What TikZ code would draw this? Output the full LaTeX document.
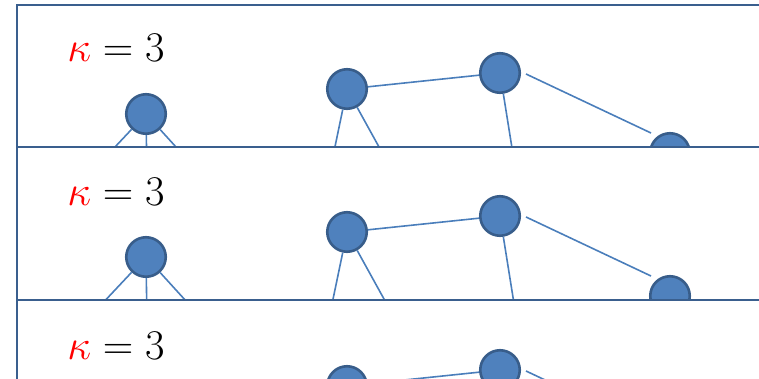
\documentclass[tikz,border=0pt]{standalone}
\usetikzlibrary{calc}
\definecolor{nodefill}{HTML}{4F81BD}
\definecolor{nodeline}{HTML}{385D8A}
\definecolor{linkcol}{HTML}{4A7EBB}
\definecolor{framecol}{HTML}{3A5F8E}
\begin{document}
\begin{tikzpicture}[x=1pt,y=-1pt,
  vtx/.style={circle,fill=nodefill,draw=nodeline,line width=2.6pt,minimum size=39.5pt,inner sep=0pt},
  link/.style={draw=linkcol,line width=1.6pt},
  panelline/.style={draw=framecol,line width=2pt},
  kappatext/.style={anchor=base west,inner sep=0pt,font=\Huge,scale=1.7,transform shape}]
\useasboundingbox (0,0) rectangle (759,379);
\foreach \p/\oy/\ta/\tb in {1/5/5/147,2/148/147/300,3/302/300/379}{
  \begin{scope}
    \clip (17,\ta) rectangle (759,\tb);
    \begin{scope}[shift={(0,\oy)}]
      \node[kappatext] (k\p) at (67,57) {$\textcolor{red}{\kappa}=3$};
      \node[vtx] (a\p) at (146,109) {};
      \node[vtx] (b\p) at (347,84) {};
      \node[vtx] (c\p) at (500,68) {};
      \node[vtx] (d\p) at (670,148) {};
      \coordinate (a\p-l) at (84,175);
      \coordinate (a\p-m) at (147,175);
      \coordinate (a\p-r) at (206,175);
      \coordinate (b\p-l) at (327,180);
      \coordinate (b\p-r) at (400,180);
      \coordinate (c\p-m) at (516,168);
      \draw[link] (a\p) -- (a\p-l);
      \draw[link] (a\p) -- (a\p-m);
      \draw[link] (a\p) -- (a\p-r);
      \draw[link] (b\p) -- (b\p-l);
      \draw[link] (b\p) -- (b\p-r);
      \draw[link] (c\p) -- (c\p-m);
      \draw[link] (b\p) -- (c\p);
      \draw[link] ($(c\p)+(26,1)$) -- ($(d\p)+(-19,-20)$);
    \end{scope}
  \end{scope}
}
\draw[panelline] (759,5) -- (17,5) -- (17,379);
\draw[panelline] (17,147) -- (759,147);
\draw[panelline] (17,300) -- (759,300);
\end{tikzpicture}
\end{document}
